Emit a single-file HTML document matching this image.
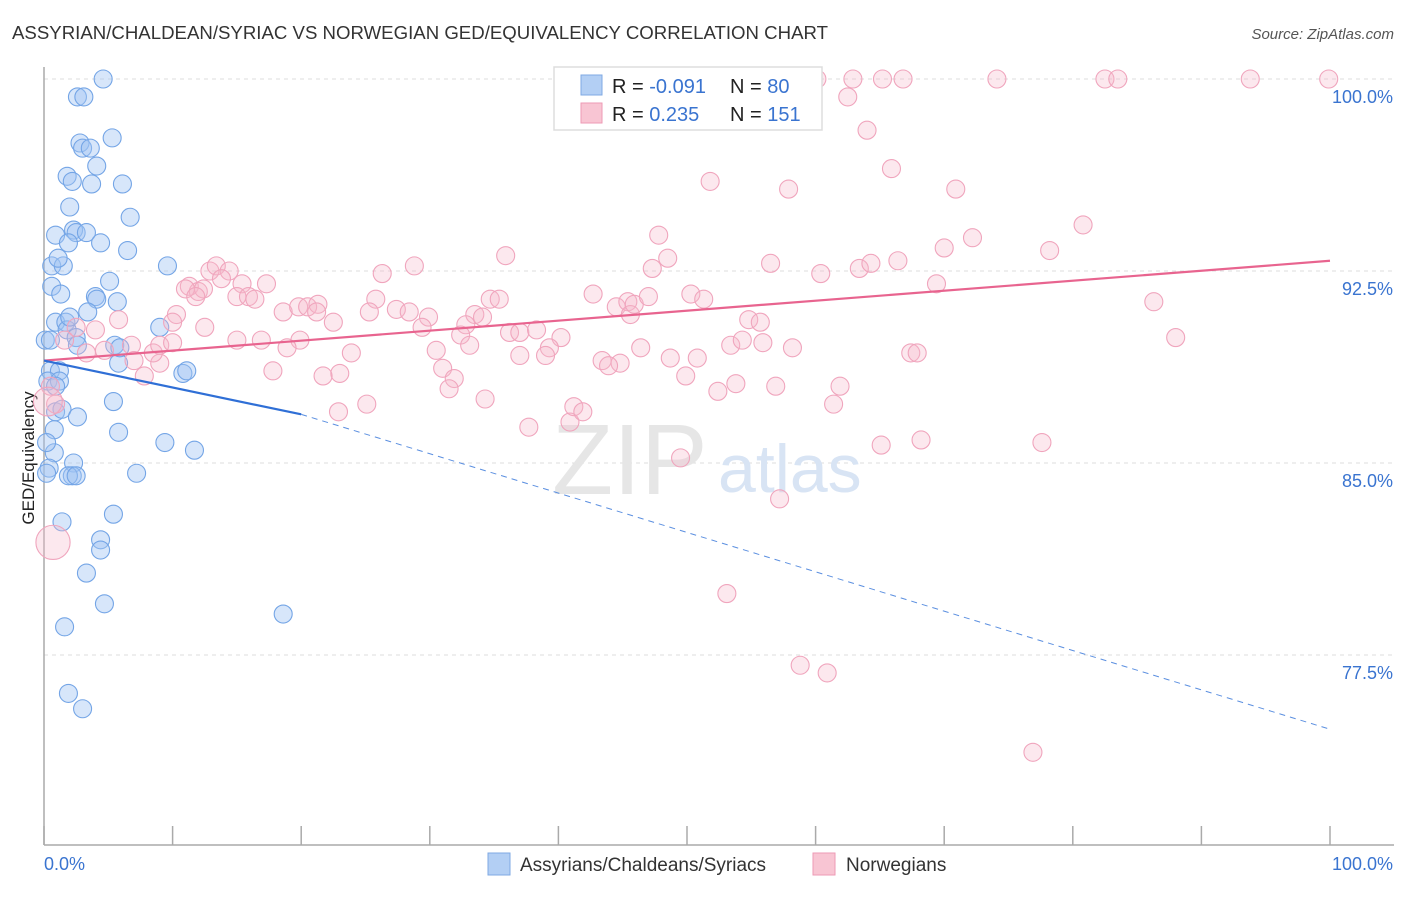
<!DOCTYPE html>
<html><head><meta charset="utf-8">
<style>
body{margin:0;background:#fff;font-family:"Liberation Sans",sans-serif;}
svg text{font-family:"Liberation Sans",sans-serif;}
</style></head>
<body>
<svg id="c" width="1406" height="892">
<text x="12" y="39" font-size="18" fill="#333" textLength="816" lengthAdjust="spacingAndGlyphs">ASSYRIAN/CHALDEAN/SYRIAC VS NORWEGIAN GED/EQUIVALENCY CORRELATION CHART</text>
<text x="1394" y="39" font-size="15" fill="#555" font-style="italic" text-anchor="end">Source: ZipAtlas.com</text>
<text x="0" y="0" transform="translate(34,458) rotate(-90)" font-size="17" fill="#222" text-anchor="middle">GED/Equivalency</text>
<g id="grid"></g>
<text x="552" y="494" font-size="100" fill="#e6e6e6" font-family="Liberation Serif">ZIP</text>
<text x="718" y="492" font-size="68" fill="#d8e4f4">atlas</text>
<g id="pts"></g>
<g id="lines"></g>
<g>
<rect x="554" y="67" width="268" height="63" fill="#fff" stroke="#ddd" stroke-width="1.5"/>
<rect x="581" y="75" width="21" height="20" fill="#b3cff4" stroke="#7fa9e3"/>
<rect x="581" y="103" width="21" height="20" fill="#f8c5d3" stroke="#ee9ab4"/>
<text x="612" y="93" font-size="20" fill="#222">R = <tspan fill="#3a74d0">-0.091</tspan></text>
<text x="730" y="93" font-size="20" fill="#222">N = <tspan fill="#3a74d0"> 80</tspan></text>
<text x="612" y="121" font-size="20" fill="#222">R = <tspan fill="#3a74d0"> 0.235</tspan></text>
<text x="730" y="121" font-size="20" fill="#222">N = <tspan fill="#3a74d0">151</tspan></text>
</g>
<g>
<rect x="488" y="853" width="22" height="22" fill="#b3cff4" stroke="#7fa9e3"/>
<text x="520" y="871" font-size="19" fill="#333">Assyrians/Chaldeans/Syriacs</text>
<rect x="813" y="853" width="22" height="22" fill="#f8c5d3" stroke="#ee9ab4"/>
<text x="846" y="871" font-size="19" fill="#333">Norwegians</text>
</g>
</svg>
<script>
const yTicks=[100,92.5,85,77.5];
const yTickLabels=["100.0%","92.5%","85.0%","77.5%"];
const xTicks=[0,10,20,30,40,50,60,70,80,90,100];
const xEndLabels=["0.0%","100.0%"];
const blueX=[4.6,2.6,3.1,5.3,2.8,3.0,3.6,1.8,2.2,6.1,3.7,4.1,2.0,6.7,0.9,2.3,2.5,1.9,3.3,4.4,6.5,9.6,0.6,1.5,1.1,5.1,0.6,1.3,4.0,4.1,5.7,3.4,0.9,1.7,1.8,0.1,0.5,2.5,2.0,2.6,5.5,5.8,5.9,9.0,10.8,11.1,0.5,1.2,0.3,1.2,0.9,1.4,2.6,0.8,5.8,9.4,11.7,0.8,0.2,2.3,0.4,2.2,1.9,2.5,7.2,0.2,5.4,1.4,4.4,4.4,3.3,4.7,1.6,18.6,1.9,3.0,5.4,0.9];
const blueY=[100,99.3,99.3,97.7,97.5,97.3,97.3,96.2,96.0,95.9,95.9,96.6,95.0,94.6,93.9,94.1,94.0,93.6,94.0,93.6,93.3,92.7,92.7,92.7,93.0,92.1,91.9,91.6,91.5,91.4,91.3,90.9,90.5,90.5,90.2,89.8,89.8,89.9,90.7,89.6,89.6,88.9,89.5,90.3,88.5,88.6,88.6,88.6,88.2,88.2,87.0,87.1,86.8,86.3,86.2,85.8,85.5,85.4,85.8,85.0,84.8,84.5,84.5,84.5,84.6,84.6,83.0,82.7,82.0,81.6,80.7,79.5,78.6,79.1,76.0,75.4,87.4,88.0];
const pinkX=[60.1,62.9,65.2,66.8,74.1,82.5,83.5,93.8,99.9,62.5,64.0,51.8,57.9,65.9,70.9,47.8,80.8,70.0,72.2,78.2,35.9,48.5,47.3,56.5,60.4,63.4,64.3,66.4,28.8,26.3,12.9,13.4,14.4,13.8,15.4,17.3,11.3,12.0,11.0,12.4,15.0,15.9,16.4,11.8,10.3,10.0,18.6,19.8,20.5,21.3,21.2,22.5,25.8,25.3,27.4,28.4,29.9,29.4,33.5,34.7,35.4,34.1,32.8,32.4,36.2,37.0,38.3,40.2,42.7,44.5,45.4,45.6,45.9,47.0,50.3,51.3,54.8,55.7,53.4,54.3,55.9,58.2,46.4,48.7,50.8,44.8,43.4,43.9,39.3,39.0,37.0,33.1,30.5,31.0,31.9,31.5,34.3,37.7,40.9,41.2,41.9,23.9,23.0,21.7,19.9,18.9,16.9,15.0,12.5,5.8,4.0,2.5,1.6,4.7,3.3,9.0,8.5,9.0,10.0,6.8,7.0,7.8,17.8,22.9,25.1,49.9,52.4,53.8,56.9,61.9,61.4,67.4,67.9,86.3,88.0,69.4,65.1,68.2,77.6,49.5,57.2,53.1,58.8,60.9,76.9,0.9,0.5,0.7,0.3];
const pinkY=[100,100,100,100,100,100,100,100,100,99.3,98.0,96.0,95.7,96.5,95.7,93.9,94.3,93.4,93.8,93.3,93.1,93.0,92.6,92.8,92.4,92.6,92.8,92.9,92.7,92.4,92.5,92.7,92.5,92.2,92.0,92.0,91.9,91.7,91.8,91.8,91.5,91.5,91.4,91.5,90.8,90.5,90.9,91.1,91.1,91.2,90.9,90.5,91.4,90.9,91.0,90.9,90.7,90.3,90.8,91.4,91.4,90.7,90.4,90.0,90.1,90.1,90.2,89.9,91.6,91.1,91.3,90.8,91.2,91.5,91.6,91.4,90.6,90.5,89.6,89.8,89.7,89.5,89.5,89.1,89.1,88.9,89.0,88.8,89.5,89.2,89.2,89.6,89.4,88.7,88.3,87.9,87.5,86.4,86.6,87.2,87.0,89.3,88.5,88.4,89.8,89.5,89.8,89.8,90.3,90.6,90.2,90.3,89.8,89.4,89.3,88.9,89.3,89.6,89.7,89.6,89.0,88.4,88.6,87.0,87.3,88.4,87.8,88.1,88.0,88.0,87.3,89.3,89.3,91.3,89.9,92.0,85.7,85.9,85.8,85.2,83.6,79.9,77.1,76.8,73.7,87.3,88.0,81.9,87.4];
const pinkSize=[];for(let i=0;i<pinkX.length;i++)pinkSize.push(1);
pinkSize[pinkX.length-2]=1.9;pinkSize[pinkX.length-1]=1.6;
const pinkTrend=[89.0,92.9];
const blueTrendSolid=[89.0,86.9];
const blueTrendEnd=74.6;
const blueSolidEndX=20;

const X=v=>44+v*12.86;
const Y=v=>79+(100-v)*25.6;
const NS="http://www.w3.org/2000/svg";
function mk(tag,attrs,parent){const e=document.createElementNS(NS,tag);for(const k in attrs)e.setAttribute(k,attrs[k]);parent.appendChild(e);return e;}
const grid=document.getElementById('grid');
yTicks.forEach((t,i)=>{
 const l=mk('line',{x1:44,x2:1394,y1:Y(t),y2:Y(t),stroke:'#ddd','stroke-dasharray':'4,4'},grid);
 
 
 const tx=mk('text',{x:1393,y:Y(t)+24,'font-size':18,fill:'#3a74d0','text-anchor':'end'},grid);
 tx.textContent=yTickLabels[i];
 
 
});
const ax=mk('line',{x1:44,x2:44,y1:67,y2:845,stroke:'#aaa','stroke-width':1.5},grid);


const bx=mk('line',{x1:44,x2:1394,y1:845,y2:845,stroke:'#aaa','stroke-width':1.5},grid);


xTicks.forEach(t=>{
 const l=mk('line',{x1:X(t),x2:X(t),y1:826,y2:845,stroke:'#aaa','stroke-width':1.5},grid);
 
 
});
const xl0=mk('text',{x:44,y:870,'font-size':18,fill:'#3a74d0'},grid);xl0.textContent=xEndLabels[0];


const xl1=mk('text',{x:1393,y:870,'font-size':18,fill:'#3a74d0','text-anchor':'end'},grid);xl1.textContent=xEndLabels[1];



const pts=document.getElementById('pts');
blueX.forEach((v,i)=>{
 const c=mk('circle',{cx:X(v),cy:Y(blueY[i]),r:9,fill:'rgba(160,196,242,0.42)',stroke:'#74a5e6','stroke-width':1.1},pts);
 
 
});
pinkX.forEach((v,i)=>{
 const c=mk('circle',{cx:X(v),cy:Y(pinkY[i]),r:9*pinkSize[i],fill:'rgba(246,184,204,0.33)',stroke:'#f0a5bd','stroke-width':1.1},pts);
 
 
});
const lines=document.getElementById('lines');
const pl=mk('line',{x1:X(0),y1:Y(pinkTrend[0]),x2:X(100),y2:Y(pinkTrend[1]),stroke:'#e8648f','stroke-width':2.2},lines);


const bl=mk('line',{x1:X(0),y1:Y(blueTrendSolid[0]),x2:X(blueSolidEndX),y2:Y(blueTrendSolid[1]),stroke:'#2f6fd6','stroke-width':2.2},lines);


const bd=mk('line',{x1:X(blueSolidEndX),y1:Y(blueTrendSolid[1]),x2:X(100),y2:Y(blueTrendEnd),stroke:'#5b8fe0','stroke-width':1,'stroke-dasharray':'6,5'},lines);


</script>
</body></html>
